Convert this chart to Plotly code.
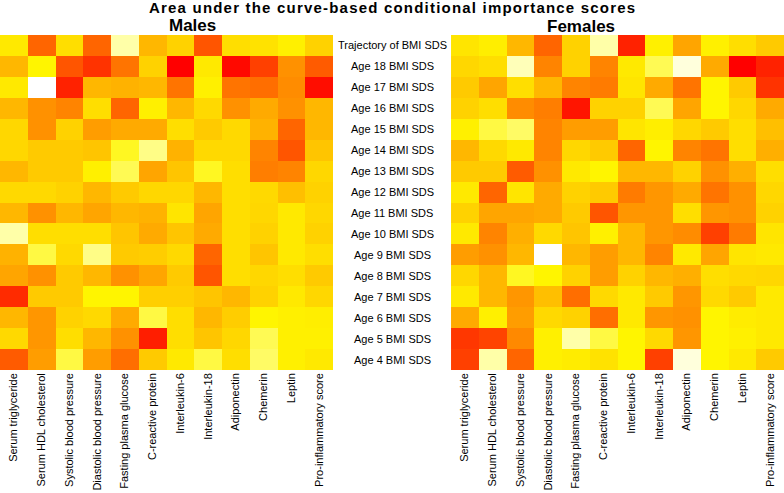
import plotly.graph_objects as go

rows = ["Trajectory of BMI SDS", "Age 18 BMI SDS", "Age 17 BMI SDS", "Age 16 BMI SDS",
        "Age 15 BMI SDS", "Age 14 BMI SDS", "Age 13 BMI SDS", "Age 12 BMI SDS",
        "Age 11 BMI SDS", "Age 10 BMI SDS", "Age 9 BMI SDS", "Age 8 BMI SDS",
        "Age 7 BMI SDS", "Age 6 BMI SDS", "Age 5 BMI SDS", "Age 4 BMI SDS"]
cols = ["Serum triglyceride", "Serum HDL cholesterol", "Systolic blood pressure",
        "Diastolic blood pressure", "Fasting plasma glucose", "C-reactive protein",
        "Interleukin-6", "Interleukin-18", "Adiponectin", "Chemerin", "Leptin",
        "Pro-inflammatory score"]

males = [
    [0.25, 0.75, 0.30, 0.75, 0.10, 0.45, 0.35, 0.80, 0.30, 0.28, 0.22, 0.35],
    [0.45, 0.20, 0.80, 0.88, 0.70, 0.35, 1.00, 0.25, 0.98, 0.85, 0.60, 0.78],
    [0.25, 0.00, 0.92, 0.45, 0.47, 0.45, 0.70, 0.22, 0.70, 0.72, 0.62, 0.97],
    [0.45, 0.60, 0.65, 0.30, 0.75, 0.22, 0.45, 0.32, 0.60, 0.50, 0.60, 0.45],
    [0.33, 0.60, 0.35, 0.55, 0.50, 0.50, 0.30, 0.38, 0.32, 0.47, 0.75, 0.45],
    [0.33, 0.38, 0.38, 0.40, 0.18, 0.12, 0.47, 0.32, 0.32, 0.65, 0.80, 0.40],
    [0.45, 0.38, 0.38, 0.22, 0.15, 0.52, 0.40, 0.18, 0.30, 0.67, 0.65, 0.33],
    [0.32, 0.32, 0.35, 0.45, 0.38, 0.33, 0.33, 0.45, 0.30, 0.32, 0.42, 0.35],
    [0.45, 0.60, 0.45, 0.52, 0.45, 0.47, 0.27, 0.52, 0.30, 0.33, 0.25, 0.33],
    [0.10, 0.30, 0.30, 0.30, 0.40, 0.50, 0.40, 0.50, 0.30, 0.35, 0.25, 0.35],
    [0.47, 0.16, 0.32, 0.12, 0.38, 0.37, 0.32, 0.75, 0.30, 0.40, 0.25, 0.30],
    [0.52, 0.60, 0.38, 0.45, 0.60, 0.52, 0.38, 0.80, 0.30, 0.33, 0.30, 0.38],
    [0.90, 0.38, 0.38, 0.20, 0.20, 0.36, 0.36, 0.40, 0.45, 0.35, 0.25, 0.33],
    [0.45, 0.58, 0.35, 0.32, 0.50, 0.16, 0.30, 0.45, 0.37, 0.20, 0.22, 0.23],
    [0.32, 0.58, 0.30, 0.45, 0.60, 0.93, 0.30, 0.40, 0.33, 0.15, 0.22, 0.22],
    [0.78, 0.55, 0.16, 0.55, 0.72, 0.38, 0.25, 0.16, 0.30, 0.14, 0.22, 0.25],
]

females = [
    [0.27, 0.23, 0.45, 0.75, 0.35, 0.10, 0.92, 0.22, 0.52, 0.22, 0.30, 0.38],
    [0.33, 0.30, 0.08, 0.65, 0.35, 0.65, 0.25, 0.15, 0.04, 0.50, 1.00, 0.92],
    [0.38, 0.52, 0.30, 0.45, 0.65, 0.68, 0.27, 0.50, 0.70, 0.20, 0.38, 0.88],
    [0.35, 0.30, 0.62, 0.67, 0.95, 0.35, 0.35, 0.15, 0.52, 0.20, 0.33, 0.50],
    [0.22, 0.16, 0.14, 0.65, 0.55, 0.55, 0.27, 0.23, 0.33, 0.38, 0.30, 0.42],
    [0.45, 0.32, 0.25, 0.65, 0.33, 0.38, 0.75, 0.20, 0.65, 0.70, 0.30, 0.48],
    [0.38, 0.38, 0.78, 0.60, 0.25, 0.20, 0.45, 0.45, 0.35, 0.60, 0.48, 0.30],
    [0.25, 0.75, 0.27, 0.50, 0.35, 0.38, 0.68, 0.58, 0.50, 0.70, 0.60, 0.33],
    [0.35, 0.52, 0.52, 0.50, 0.38, 0.80, 0.58, 0.58, 0.30, 0.58, 0.60, 0.35],
    [0.25, 0.65, 0.48, 0.32, 0.40, 0.22, 0.45, 0.58, 0.62, 0.85, 0.68, 0.27],
    [0.55, 0.60, 0.45, 0.00, 0.45, 0.55, 0.45, 0.65, 0.25, 0.52, 0.27, 0.25],
    [0.33, 0.45, 0.18, 0.20, 0.35, 0.55, 0.35, 0.45, 0.48, 0.30, 0.32, 0.33],
    [0.25, 0.45, 0.58, 0.42, 0.72, 0.32, 0.25, 0.38, 0.58, 0.32, 0.38, 0.25],
    [0.50, 0.22, 0.55, 0.32, 0.35, 0.72, 0.25, 0.58, 0.60, 0.20, 0.24, 0.25],
    [0.87, 0.84, 0.63, 0.22, 0.10, 0.16, 0.20, 0.32, 0.58, 0.20, 0.22, 0.25],
    [0.85, 0.10, 0.75, 0.22, 0.24, 0.28, 0.20, 0.85, 0.04, 0.20, 0.25, 0.38],
]

heat = [
    [0.00, "#FFFFFF"],
    [0.10, "#FFFFA8"],
    [0.20, "#FFF500"],
    [0.35, "#FFD200"],
    [0.50, "#FFAA00"],
    [0.65, "#FF8400"],
    [0.80, "#FF5500"],
    [1.00, "#FF0000"],
]

FONT = "Liberation Sans, Arial, sans-serif"

fig = go.Figure()
fig.add_trace(go.Heatmap(z=males, x=cols, y=rows, colorscale=heat, zmin=0, zmax=1,
                         showscale=False, xaxis="x", yaxis="y"))
fig.add_trace(go.Heatmap(z=females, x=cols, y=rows, colorscale=heat, zmin=0, zmax=1,
                         showscale=False, xaxis="x2", yaxis="y2"))

for r in rows:
    fig.add_annotation(x=0.5, xref="paper", y=r, yref="y", text=r, showarrow=False,
                       xanchor="center", font=dict(family=FONT, size=11, color="#000"))

fig.add_annotation(x=0.5, xref="paper", y=1, yref="paper", yshift=28,
                   text="<b><span style='letter-spacing:1.2px'>Area under the curve-based conditional importance scores</span></b>",
                   showarrow=False, yanchor="middle",
                   font=dict(family=FONT, size=15, color="#000"))
fig.add_annotation(x=0.2124, xref="paper", y=1, yref="paper", yshift=10,
                   text="<b>Males</b>", showarrow=False, yanchor="middle",
                   font=dict(family=FONT, size=17, color="#000"))
fig.add_annotation(x=0.7876, xref="paper", y=1, yref="paper", yshift=9,
                   text="<b>Females</b>", showarrow=False, yanchor="middle",
                   font=dict(family=FONT, size=17, color="#000"))

axis_x = dict(tickangle=-90, tickfont=dict(family=FONT, size=11, color="#000"),
              showgrid=False, zeroline=False, ticks="", showline=False,
              automargin=False)
axis_y = dict(autorange="reversed", showticklabels=False, showgrid=False,
              zeroline=False, ticks="", showline=False, automargin=False)

fig.update_layout(
    width=784, height=493,
    margin=dict(l=0, r=0, t=35, b=123, autoexpand=False),
    paper_bgcolor="white", plot_bgcolor="white",
    xaxis=dict(domain=[0, 0.4247], anchor="y", **axis_x),
    xaxis2=dict(domain=[0.5753, 1.0], anchor="y2", **axis_x),
    yaxis=dict(domain=[0, 1], anchor="x", **axis_y),
    yaxis2=dict(domain=[0, 1], anchor="x2", **axis_y),
)

fig.write_html("out.html", config={"displayModeBar": False},
               post_script="document.body.style.margin='0';document.body.style.overflow='hidden';")
